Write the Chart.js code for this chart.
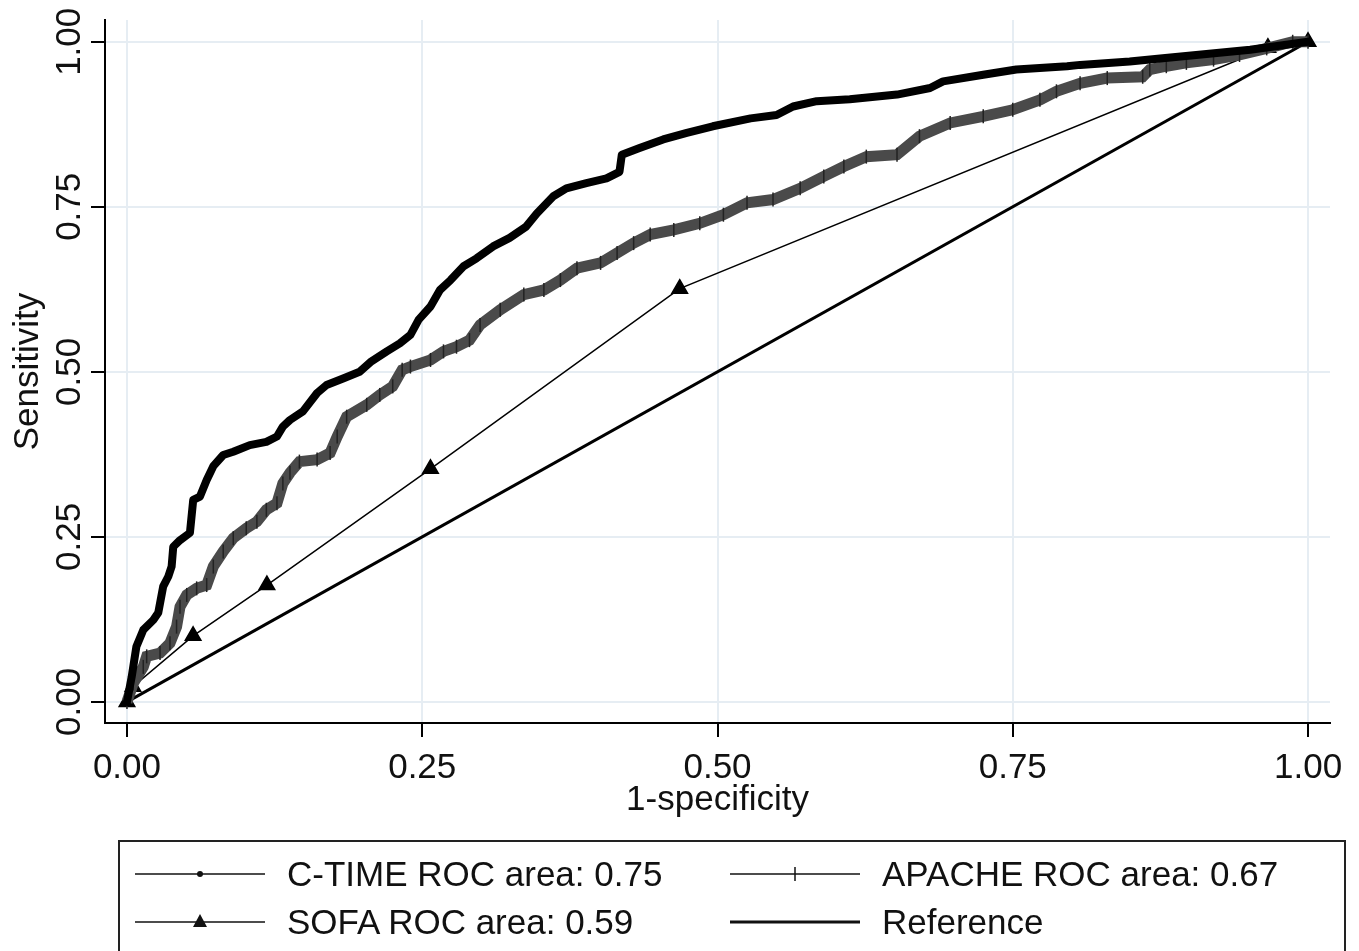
<!DOCTYPE html>
<html>
<head>
<meta charset="utf-8">
<script src="https://cdn.jsdelivr.net/npm/chart.js@4/dist/chart.umd.min.js"></script>
<style>
  html, body { margin: 0; padding: 0; background: #fff; }
  #wrap { position: relative; width: 1359px; height: 951px; overflow: hidden; }
  #legend { position: absolute; left: 118px; top: 840px; width: 1228px; height: 140px;
            border: 2px solid #222; box-sizing: border-box; font-family: "Liberation Sans", Arial, sans-serif;
            font-size: 35px; color: #111; }
  .item { position: absolute; height: 42px; line-height: 42px; white-space: nowrap; }
  .item svg { position: absolute; left: 0; top: 0; }
  .item span { position: absolute; left: 152px; top: 0; }
</style>
</head>
<body>
<div id="wrap">
  <canvas id="c" width="1359" height="951"></canvas>
  <div id="legend"></div>
</div>
<script>
// ---- data (1-specificity, sensitivity) ----
const ctimeX = [0, 0.004, 0.008, 0.0138, 0.0223, 0.0265, 0.0307, 0.035, 0.0378, 0.0392, 0.0449, 0.0533, 0.0561, 0.0618, 0.0675, 0.0731, 0.0815, 0.09, 0.104, 0.118, 0.127, 0.132, 0.138, 0.149, 0.161, 0.169, 0.183, 0.197, 0.207, 0.22, 0.231, 0.24, 0.247, 0.257, 0.265, 0.274, 0.285, 0.296, 0.31, 0.324, 0.338, 0.347, 0.361, 0.372, 0.389, 0.406, 0.417, 0.419, 0.434, 0.454, 0.474, 0.496, 0.528, 0.55, 0.564, 0.584, 0.612, 0.652, 0.68, 0.691, 0.725, 0.753, 0.796, 0.807, 0.849, 0.877, 0.951, 1];
const ctimeY = [0, 0.038, 0.084, 0.109, 0.124, 0.135, 0.175, 0.19, 0.205, 0.235, 0.245, 0.256, 0.306, 0.311, 0.336, 0.357, 0.374, 0.379, 0.389, 0.394, 0.402, 0.417, 0.427, 0.44, 0.468, 0.48, 0.49, 0.5, 0.516, 0.531, 0.543, 0.556, 0.579, 0.599, 0.624, 0.639, 0.66, 0.672, 0.69, 0.703, 0.72, 0.74, 0.766, 0.778, 0.786, 0.793, 0.803, 0.829, 0.839, 0.852, 0.862, 0.872, 0.884, 0.889, 0.902, 0.91, 0.913, 0.92, 0.93, 0.94, 0.95, 0.958, 0.963, 0.965, 0.97, 0.975, 0.988, 1];

const apacheX = [0, 0.0053, 0.0138, 0.0167, 0.028, 0.0364, 0.042, 0.0449, 0.0506, 0.059, 0.0675, 0.0731, 0.0815, 0.09, 0.101, 0.11, 0.118, 0.127, 0.132, 0.138, 0.146, 0.161, 0.172, 0.178, 0.186, 0.203, 0.214, 0.225, 0.233, 0.24, 0.257, 0.268, 0.279, 0.29, 0.299, 0.316, 0.336, 0.353, 0.367, 0.381, 0.401, 0.415, 0.429, 0.443, 0.463, 0.485, 0.505, 0.525, 0.547, 0.57, 0.59, 0.607, 0.626, 0.652, 0.671, 0.697, 0.725, 0.75, 0.773, 0.787, 0.807, 0.83, 0.86, 0.866, 0.88, 0.897, 0.92, 0.942, 0.965, 0.987, 1];
const apacheY = [0, 0.028, 0.053, 0.069, 0.074, 0.089, 0.114, 0.144, 0.162, 0.172, 0.177, 0.205, 0.228, 0.248, 0.263, 0.273, 0.291, 0.301, 0.331, 0.347, 0.364, 0.367, 0.377, 0.402, 0.432, 0.45, 0.465, 0.478, 0.503, 0.508, 0.518, 0.531, 0.538, 0.548, 0.571, 0.594, 0.617, 0.624, 0.639, 0.657, 0.665, 0.68, 0.695, 0.708, 0.715, 0.725, 0.738, 0.756, 0.761, 0.778, 0.796, 0.811, 0.826, 0.829, 0.857, 0.877, 0.887, 0.897, 0.912, 0.925, 0.937, 0.945, 0.947, 0.958, 0.963, 0.968, 0.973, 0.98, 0.99, 1.0, 1];

const sofaX = [0, 0.005, 0.056, 0.1185, 0.257, 0.468, 0.966, 1];
const sofaY = [0, 0.023, 0.1, 0.177, 0.353, 0.626, 0.991, 1];

const refX = [0, 1];
const refY = [0, 1];

const tickValues = [0, 0.25, 0.5, 0.75, 1];
const tickLabels = ["0.00", "0.25", "0.50", "0.75", "1.00"];

const seriesNames = ["C-TIME ROC area: 0.75", "APACHE ROC area: 0.67", "SOFA ROC area: 0.59", "Reference"];

const pts = (xs, ys) => xs.map((x, i) => ({ x: x, y: ys[i] }));
const FONT = '"Liberation Sans", Arial, sans-serif';

const yTickLabelPlugin = {
  id: 'yTickLabels',
  afterDraw(chart) {
    const ctx = chart.ctx;
    const ys = chart.scales.y;
    ctx.save();
    ctx.fillStyle = '#111';
    ctx.font = '35px ' + FONT;
    ctx.textAlign = 'center';
    ctx.textBaseline = 'middle';
    tickValues.forEach((v, i) => {
      const py = ys.getPixelForValue(v);
      ctx.save();
      ctx.translate(70, py);
      ctx.rotate(-Math.PI / 2);
      ctx.fillText(tickLabels[i], 0, 0);
      ctx.restore();
    });
    ctx.restore();
  }
};

const chart = new Chart(document.getElementById('c'), {
  type: 'scatter',
  data: {
    datasets: [
      { label: seriesNames[3], data: pts(refX, refY), showLine: true, borderColor: '#000', borderWidth: 3, pointRadius: 0, order: 4 },
      { label: seriesNames[2], data: pts(sofaX, sofaY), showLine: true, borderColor: '#000', borderWidth: 1.5,
        pointStyle: 'triangle', pointRadius: 9, backgroundColor: '#000', pointBorderColor: '#000', order: 3 },
      { label: seriesNames[1], data: pts(apacheX, apacheY), showLine: true, borderColor: '#4a4a4a', borderWidth: 11,
        pointStyle: 'line', rotation: 90, pointRadius: 7, pointBorderColor: '#222', pointBorderWidth: 1.5, order: 2 },
      { label: seriesNames[0], data: pts(ctimeX, ctimeY), showLine: true, borderColor: '#000', borderWidth: 8,
        borderJoinStyle: 'round', borderCapStyle: 'round', pointRadius: 0, order: 1 }
    ]
  },
  options: {
    responsive: false,
    animation: false,
    clip: false,
    layout: { padding: { top: 20, right: 29, left: 0, bottom: 118 } },
    plugins: { legend: { display: false }, tooltip: { enabled: false } },
    scales: {
      x: {
        type: 'linear', min: -0.0186, max: 1.0186,
        afterBuildTicks: s => { s.ticks = tickValues.map(v => ({ value: v })); },
        afterFit: s => { s.height = 110; },
        grid: { color: '#e6edf3', lineWidth: 2, tickColor: '#000', tickLength: 14, tickWidth: 2 },
        border: { color: '#000', width: 2 },
        ticks: { color: '#111', font: { family: FONT, size: 35 }, padding: 10,
                 callback: (v) => tickLabels[tickValues.indexOf(v)] },
        title: { display: true, text: '1-specificity', color: '#111', font: { family: FONT, size: 35 }, padding: { top: 0, bottom: 12 } }
      },
      y: {
        type: 'linear', min: -0.032, max: 1.033,
        afterBuildTicks: s => { s.ticks = tickValues.map(v => ({ value: v })); },
        afterFit: s => { s.width = 105; },
        grid: { color: '#e6edf3', lineWidth: 2, tickColor: '#000', tickLength: 14, tickWidth: 2 },
        border: { color: '#000', width: 2 },
        ticks: { display: false },
        title: { display: true, text: 'Sensitivity', color: '#111', font: { family: FONT, size: 35 }, padding: { top: 7, bottom: 0 } }
      }
    }
  },
  plugins: [yTickLabelPlugin]
});

// ---- HTML legend ----
const legend = document.getElementById('legend');
const samples = {
  ctime: '<svg width="132" height="42"><line x1="0" y1="21" x2="130" y2="21" stroke="#111" stroke-width="1.5"/><circle cx="65" cy="21" r="3" fill="#111"/></svg>',
  apache: '<svg width="132" height="42"><line x1="0" y1="21" x2="130" y2="21" stroke="#111" stroke-width="1.5"/><line x1="65" y1="14" x2="65" y2="28" stroke="#111" stroke-width="1.5"/></svg>',
  sofa: '<svg width="132" height="42"><line x1="0" y1="21" x2="130" y2="21" stroke="#111" stroke-width="1.5"/><polygon points="65,13 72,26 58,26" fill="#111"/></svg>',
  ref: '<svg width="132" height="42"><line x1="0" y1="21" x2="130" y2="21" stroke="#111" stroke-width="3"/></svg>'
};
const items = [
  { s: samples.ctime, t: seriesNames[0], left: 15, top: 11 },
  { s: samples.apache, t: seriesNames[1], left: 610, top: 11 },
  { s: samples.sofa, t: seriesNames[2], left: 15, top: 59 },
  { s: samples.ref, t: seriesNames[3], left: 610, top: 59 }
];
items.forEach(it => {
  const d = document.createElement('div');
  d.className = 'item';
  d.style.left = it.left + 'px';
  d.style.top = it.top + 'px';
  d.innerHTML = it.s + '<span>' + it.t + '</span>';
  legend.appendChild(d);
});
</script>
</body>
</html>
